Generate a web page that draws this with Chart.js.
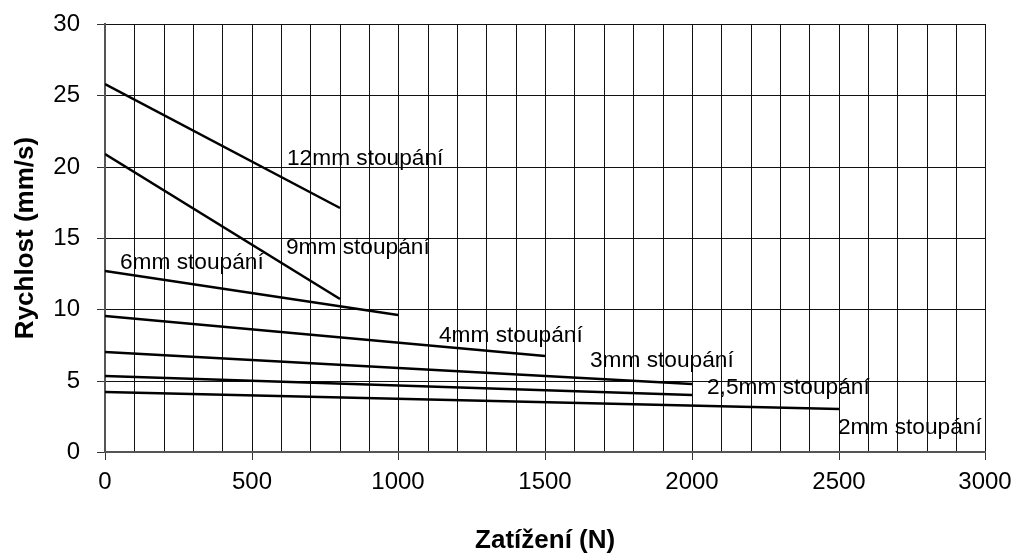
<!DOCTYPE html>
<html>
<head>
<meta charset="utf-8">
<script src="https://cdn.jsdelivr.net/npm/chart.js@4"></script>
<style>
  html, body { margin: 0; padding: 0; background: #fff; }
  #wrap { width: 1020px; height: 557px; }
</style>
</head>
<body>
<div id="wrap"><canvas id="c" width="1020" height="557"></canvas></div>
<script>
// ---- data ----
const seriesNames  = ['12mm stoupání', '9mm stoupání', '6mm stoupání', '4mm stoupání', '3mm stoupání', '2,5mm stoupání', '2mm stoupání'];
const startLoads   = [0, 0, 0, 0, 0, 0, 0];
const endLoads     = [800, 800, 1000, 1500, 2000, 2000, 2500];
const startSpeeds  = [25.8, 20.9, 12.7, 9.5, 7.0, 5.3, 4.2];
const endSpeeds    = [17.1, 10.7, 9.6, 6.7, 4.8, 4.0, 3.0];
// label anchor (load, speed) for each series label text
const labelLoads   = [620, 617, 50, 1138, 1654, 2053, 2499];
const labelSpeeds  = [20.1, 13.9, 12.8, 7.7, 5.93, 4.07, 1.28];
const xTicksMajor  = [0, 500, 1000, 1500, 2000, 2500, 3000];
const yTicks       = [0, 5, 10, 15, 20, 25, 30];
const xTitle = 'Zatížení (N)';
const yTitle = 'Rychlost (mm/s)';

const FONT = "'Liberation Sans', Arial, sans-serif";

const datasets = seriesNames.map((name, i) => ({
  label: name,
  data: [{x: startLoads[i], y: startSpeeds[i]}, {x: endLoads[i], y: endSpeeds[i]}],
  borderColor: '#000',
  borderWidth: 2.5,
  pointRadius: 0,
  fill: false,
  tension: 0
}));

const labelPlugin = {
  id: 'seriesLabels',
  afterDatasetsDraw(chart) {
    const {ctx, scales} = chart;
    ctx.save();
    ctx.font = "22.7px " + FONT;
    ctx.fillStyle = '#000';
    ctx.textAlign = 'left';
    ctx.textBaseline = 'alphabetic';
    seriesNames.forEach((name, i) => {
      const px = scales.x.getPixelForValue(labelLoads[i]);
      const py = scales.y.getPixelForValue(labelSpeeds[i]);
      ctx.fillText(name, px, py);
    });
    ctx.restore();
  }
};

new Chart(document.getElementById('c'), {
  type: 'line',
  data: { datasets },
  plugins: [labelPlugin],
  options: {
    responsive: false,
    animation: false,
    layout: { padding: { top: 24, right: 34, left: 0, bottom: 0 } },
    plugins: { legend: { display: false }, tooltip: { enabled: false } },
    scales: {
      x: {
        type: 'linear',
        min: 0, max: 3000,
        alignToPixels: true,
        afterFit: s => { s.height = 105; },
        border: { display: true, color: '#555', width: 2 },
        grid: {
          color: '#111',
          lineWidth: 1,
          tickLength: 8,
          tickColor: c => xTicksMajor.includes(c.tick.value) ? '#333' : 'rgba(0,0,0,0)'
        },
        ticks: {
          stepSize: 100,
          autoSkip: false,
          maxRotation: 0,
          padding: 8,
          color: '#000',
          font: { family: FONT, size: 24 },
          callback: v => xTicksMajor.includes(v) ? String(v) : ''
        },
        title: {
          display: true,
          text: xTitle,
          color: '#000',
          font: { family: FONT, size: 26, weight: 'bold' },
          padding: { top: 0, bottom: 1 }
        }
      },
      y: {
        type: 'linear',
        min: 0, max: 30,
        alignToPixels: true,
        afterFit: s => { s.width = 105; },
        border: { display: true, color: '#555', width: 2 },
        grid: {
          color: '#111',
          lineWidth: 1,
          tickLength: 25,
          tickColor: '#333',
          tickBorderDash: [8, 17],
          tickBorderDashOffset: 8
        },
        ticks: {
          stepSize: 5,
          padding: 0,
          color: '#000',
          font: { family: FONT, size: 24 },
          callback: v => yTicks.includes(v) ? String(v) : ''
        },
        title: {
          display: true,
          text: yTitle,
          color: '#000',
          font: { family: FONT, size: 26, weight: 'bold' },
          padding: { top: 10, bottom: 0 }
        }
      }
    }
  }
});
</script>
</body>
</html>
